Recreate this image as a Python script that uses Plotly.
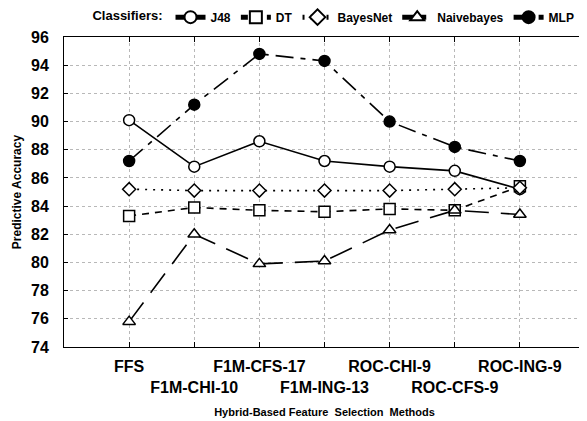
import plotly.graph_objects as go

methods = ["FFS", "F1M-CHI-10", "F1M-CFS-17", "F1M-ING-13", "ROC-CHI-9", "ROC-CFS-9", "ROC-ING-9"]
j48 = [90.1, 86.8, 88.6, 87.2, 86.8, 86.5, 85.2]
dt = [83.3, 83.9, 83.7, 83.6, 83.8, 83.7, 85.4]
bayesnet = [85.2, 85.1, 85.1, 85.1, 85.1, 85.2, 85.3]
naivebayes = [75.8, 82.0, 79.9, 80.1, 82.3, 83.7, 83.4]
mlp = [87.2, 91.2, 94.8, 94.3, 90.0, 88.2, 87.2]

xpos = list(range(1, len(methods) + 1))
ticktext = [m if i % 2 == 0 else "<br>" + m for i, m in enumerate(methods)]

series = [
    ("J48", j48, "solid", "circle", 11, "white"),
    ("DT", dt, "7px,6px", "square", 11, "white"),
    ("BayesNet", bayesnet, "2px,6px", "diamond", 10, "white"),
    ("Naivebayes", naivebayes, "24px,12px", "triangle-up", 11, "white"),
    ("MLP", mlp, "18px,7px,5px,7px", "circle", 11, "black"),
]

fig = go.Figure()
for name, vals, dash, sym, size, fill in series:
    fig.add_trace(go.Scatter(
        x=xpos, y=vals, name=name, mode="lines+markers",
        line=dict(color="black", width=1.6, dash=dash),
        marker=dict(symbol=sym, size=size, color=fill,
                    line=dict(color="black", width=1.5)),
    ))

# page body has an 8px margin; figure is sized/offset to compensate
fig.update_layout(
    width=579, height=413,
    margin=dict(l=56, r=2, t=29, b=74, autoexpand=False),
    paper_bgcolor="white", plot_bgcolor="white",
    font=dict(family="Liberation Sans, Arial, sans-serif", color="black"),
    showlegend=True,
    legend=dict(
        orientation="h", x=0.52, xanchor="center", y=1.064, yanchor="middle",
        title=dict(text="<b>Classifiers:</b>", side="left", font=dict(size=13)),
        font=dict(size=12, weight="bold"),
        itemwidth=30, tracegroupgap=0, itemsizing="constant",
        bgcolor="rgba(0,0,0,0)",
    ),
    xaxis=dict(
        range=[0, 8], tickvals=xpos, ticktext=ticktext, tickangle=0,
        tickfont=dict(size=16, weight="bold"), ticklabelstandoff=5,
        showgrid=True, gridcolor="#b8b8b8", griddash="dot", gridwidth=1,
        ticks="inside", ticklen=5, tickcolor="black",
        showline=True, linecolor="black", linewidth=1, mirror="ticks",
        zeroline=False,
        title=dict(text="<b>Hybrid-Based Feature  Selection  Methods</b>", font=dict(size=11), standoff=13),
    ),
    yaxis=dict(
        range=[74, 96], dtick=2,
        tickfont=dict(size=16, weight="bold"), ticklabelstandoff=11,
        showgrid=True, gridcolor="#b8b8b8", griddash="dot", gridwidth=1,
        ticks="inside", ticklen=4, tickcolor="black",
        showline=True, linecolor="black", linewidth=1, mirror="ticks",
        zeroline=False,
        title=dict(text="<b>Predictive Accuracy</b>", font=dict(size=12), standoff=6),
    ),
)

fig.write_html("out.html")
